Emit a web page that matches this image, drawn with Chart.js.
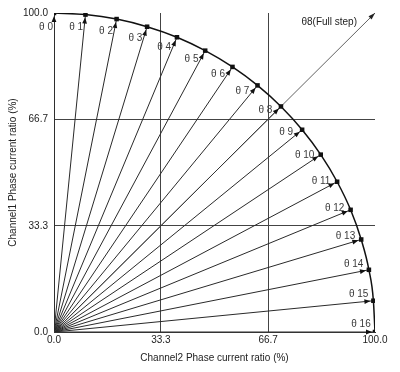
<!DOCTYPE html>
<html><head><meta charset="utf-8">
<script src="https://cdn.jsdelivr.net/npm/chart.js@4/dist/chart.umd.min.js"></script>
<style>html,body{margin:0;padding:0;background:#fff}#wrap{width:400px;height:372px}</style>
</head><body><div id="wrap"><canvas id="c" width="400" height="372"></canvas></div>
<script>
const stepLabels = ['θ 0','θ 1','θ 2','θ 3','θ 4','θ 5','θ 6','θ 7','θ 8','θ 9','θ 10','θ 11','θ 12','θ 13','θ 14','θ 15','θ 16'];
const channel2 = [0, 9.8, 19.5, 29.0, 38.3, 47.1, 55.6, 63.4, 70.7, 77.3, 83.1, 88.2, 92.4, 95.7, 98.1, 99.5, 100];
const channel1 = [100, 99.5, 98.1, 95.7, 92.4, 88.2, 83.1, 77.3, 70.7, 63.4, 55.6, 47.1, 38.3, 29.0, 19.5, 9.8, 0];
const tickValues = [0, 33.3, 66.7, 100];
const tickLabels = ['0.0', '33.3', '66.7', '100.0'];
const fullStepX = [0, 100];
const fullStepY = [0, 100];
const fullStepLabel = 'θ8(Full step)';
const xTitle = 'Channel2 Phase current ratio (%)';
const yTitle = 'Channel1 Phase current ratio (%)';

const FONT = "'Liberation Sans', Arial, sans-serif";

const rayDatasets = channel2.map((x, i) => ({
  type: 'line',
  label: stepLabels[i],
  data: [{x: 0, y: 0}, {x: x, y: channel1[i]}],
  borderColor: '#2a2a2a',
  borderWidth: 1,
  pointRadius: 0,
  order: 3
}));

const fullStepDataset = {
  type: 'line',
  label: fullStepLabel,
  data: fullStepX.map((x, i) => ({x: x, y: fullStepY[i]})),
  borderColor: '#3a3a3a',
  borderWidth: 0.8,
  pointRadius: 0,
  order: 2
};

const curveDataset = {
  type: 'line',
  label: 'curve',
  data: channel2.map((x, i) => ({x: x, y: channel1[i]})),
  borderColor: '#111',
  borderWidth: 1.5,
  cubicInterpolationMode: 'monotone',
  pointStyle: 'rect',
  pointRadius: 3.2,
  pointBackgroundColor: '#111',
  pointBorderColor: '#111',
  pointBorderWidth: 0,
  order: 1
};

const arrowPlugin = {
  id: 'arrows',
  afterDatasetsDraw(chart) {
    const ctx = chart.ctx;
    const xs = chart.scales.x, ys = chart.scales.y;
    const ox = xs.getPixelForValue(0), oy = ys.getPixelForValue(0);
    ctx.save();
    const head = (tx, ty, dx, dy, len, wid, col) => {
      const px = -dy, py = dx;
      ctx.fillStyle = col;
      ctx.beginPath();
      ctx.moveTo(tx, ty);
      ctx.lineTo(tx - dx * len + px * wid, ty - dy * len + py * wid);
      ctx.lineTo(tx - dx * len - px * wid, ty - dy * len - py * wid);
      ctx.closePath();
      ctx.fill();
    };
    channel2.forEach((v, i) => {
      const px = xs.getPixelForValue(v), py = ys.getPixelForValue(channel1[i]);
      const L = Math.hypot(px - ox, py - oy);
      const dx = (px - ox) / L, dy = (py - oy) / L;
      head(px - dx * 3, py - dy * 3, dx, dy, 6, 2.4, '#111');
      const lx = px - dx * 14 + dy * 8;
      const ly = py - dy * 14 - dx * 8;
      ctx.font = '10px ' + FONT;
      ctx.fillStyle = '#3a3a3a';
      ctx.textAlign = 'center';
      ctx.textBaseline = 'middle';
      ctx.fillText(stepLabels[i], lx, ly);
    });
    const ex = xs.getPixelForValue(fullStepX[1]), ey = ys.getPixelForValue(fullStepY[1]);
    const L2 = Math.hypot(ex - ox, ey - oy);
    head(ex, ey, (ex - ox) / L2, (ey - oy) / L2, 7, 2.2, '#222');
    ctx.font = '10px ' + FONT;
    ctx.fillStyle = '#222';
    ctx.textAlign = 'right';
    ctx.textBaseline = 'middle';
    ctx.fillText(fullStepLabel, ex - 18, ey + 9);
    ctx.restore();
  }
};

const gridColor = ctx => (ctx.tick && (ctx.tick.value === 0 || ctx.tick.value === 100)) ? 'rgba(0,0,0,0)' : '#444';

function axis(titleText, isY) {
  return {
    type: 'linear',
    min: 0, max: 100,
    afterBuildTicks: s => { s.ticks = tickValues.map(v => ({value: v})); },
    afterFit: s => { if (isY) s.width = 54; else s.height = 40; },
    ticks: {
      callback: (v, i) => tickLabels[i],
      font: {family: FONT, size: 10},
      color: '#222',
      padding: isY ? 6 : 2,
      autoSkip: false,
      maxRotation: 0
    },
    grid: { color: gridColor, lineWidth: 1, drawTicks: false },
    border: { display: true, color: '#333', width: 1 },
    title: {
      display: true, text: titleText,
      font: {family: FONT, size: 10}, color: '#222',
      padding: isY ? {top: 7, bottom: 0} : {top: 0, bottom: 8}
    }
  };
}

new Chart(document.getElementById('c'), {
  type: 'line',
  data: { datasets: [...rayDatasets, fullStepDataset, curveDataset] },
  options: {
    responsive: false,
    devicePixelRatio: 1,
    animation: false,
    layout: { padding: {top: 13, right: 25, left: 0, bottom: 0} },
    plugins: { legend: {display: false}, tooltip: {enabled: false} },
    scales: { x: axis(xTitle, false), y: axis(yTitle, true) }
  },
  plugins: [arrowPlugin]
});
</script></body></html>
